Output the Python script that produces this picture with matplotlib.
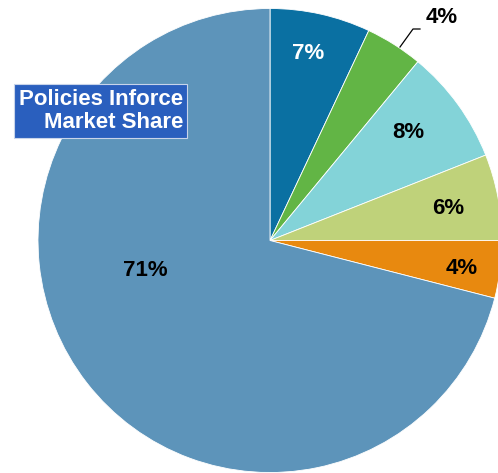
import matplotlib
matplotlib.use("Agg")
import matplotlib.pyplot as plt

plt.rcParams["font.family"] = ["Liberation Sans", "DejaVu Sans"]

# market share by carrier, clockwise from 12 o'clock
shares = [7, 4, 8, 6, 4, 71]
labels = ["7%", "4%", "8%", "6%", "4%", "71%"]
colors = ["#0A70A2", "#62B545", "#83D3D8", "#BFD27A", "#E8890F", "#5D94BA"]

W, H = 498, 473
fig = plt.figure(figsize=(W / 100, H / 100), dpi=100)
ax = fig.add_axes([0, 0, 1, 1])

cx, cy, r = 270, H - 240.5, 232
ax.pie(shares, colors=colors, startangle=90, counterclock=False,
       center=(cx, cy), radius=r,
       wedgeprops=dict(edgecolor="white", linewidth=0.6))
ax.set_xlim(0, W)
ax.set_ylim(0, H)
ax.set_aspect("auto")
ax.axis("off")

# label positions in pixels (x, y from top), text colour
pos = [(308, 54, "white"), (442, 18, "black"), (408, 132, "black"),
       (448, 209, "black"), (462, 268, "black"), (145, 271, "black")]
for lab, (x, y, c) in zip(labels, pos):
    ax.text(x, H - y, lab, ha="center", va="center", fontsize=16,
            fontweight="bold", color=c)

# leader line for the small green slice
ax.plot([400, 413, 420], [H - 47, H - 29, H - 29], color="black", lw=0.9)

# title box
ax.text(183, H - 111, "Policies Inforce\nMarket Share", ha="right", va="center",
        fontsize=16, fontweight="bold", color="white", linespacing=1.15,
        bbox=dict(boxstyle="square,pad=0.2", facecolor="#2A5FBE",
                  edgecolor="#C8D4EA", linewidth=0.8))

fig.savefig("out.png", dpi=100, facecolor="white")
